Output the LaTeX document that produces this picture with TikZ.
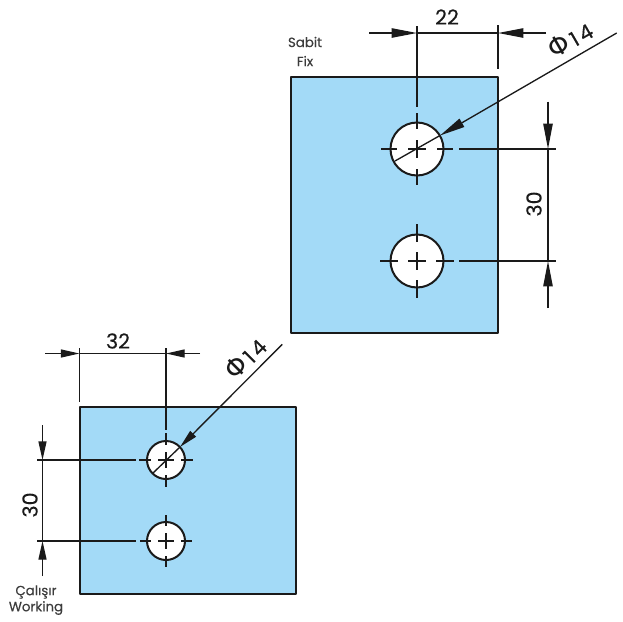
\documentclass[tikz,border=0pt]{standalone}
\usepackage{fontspec}
\setmainfont{Poppins}[FakeBold=0.25]
\newfontfamily\symfont{DejaVu Sans}
\usetikzlibrary{arrows.meta}
\definecolor{plateblue}{HTML}{A3DAF7}
\definecolor{inkdark}{HTML}{1A1A1A}
\newcommand{\diam}[1]{{\symfont\fontsize{#1}{#1}\selectfont Φ}\hspace{2pt}1\hspace{2.5pt}4}
\tikzset{
plate/.style={draw=inkdark,fill=plateblue,line width=1.5pt,line join=round},
hole/.style={draw=inkdark,fill=white,line width=1.5pt},
thin line/.style={draw=inkdark,line width=1pt},
big tip/.style={thin line,-{Triangle[length=19pt,width=7pt]}},
small tip/.style={thin line,-{Triangle[length=14pt,width=6pt]}},
dim text/.style={text=inkdark,font=\fontsize{15.5}{15.5}\selectfont,inner sep=0pt},
note text/.style={text=inkdark!85,font=\fontsize{10}{10}\selectfont,inner sep=0pt}
}
\begin{document}
\begin{tikzpicture}[x=.75pt,y=-.75pt,line cap=butt]
\useasboundingbox (0,0) rectangle (622,622);
\def\xa{417} \def\ya{149} \def\yb{261}
\def\xc{166} \def\yc{460} \def\yd{541}
% plates
\fill[white] (0,0) rectangle (622,622);
\draw[plate] (290.5,76.5) rectangle (498,332.5);
\draw[plate] (79.5,407) rectangle (296,594);
% holes: x/y/radius/cross/dash start/dash end
\foreach \x/\y/\r/\m/\p/\q/\n in{\xa/\ya/26.5/9/20/36/holeA,\xa/\yb/26.5/9/19/37/holeB,\xc/\yc/19/8/15/27/holeC,\xc/\yd/19/8/15/26/holeD}{
\coordinate (\n) at (\x,\y);
\draw[hole] (\n) circle (\r);
\draw[thin line,shift={(\x,\y)}] (-\m,0)--(\m,0)(0,-\m)--(0,\m)
 (-\q,0)--(-\p,0)(\p,0)--(\q,0)(0,-\q)--(0,-\p)(0,\p)--(0,\q);
}
% top dimensions
\coordinate (a1) at (369,33); \coordinate (a2) at (417,33);
\coordinate (a3) at (498,33); \coordinate (a4) at (546,33);
\draw[big tip] (a1)--(a2);
\draw[big tip] (a4)--(a3);
\draw[thin line] (a2)--(a3)(417,26)--(417,106.5)(498,25)--(498,69);
\node[dim text] (dimA) at (447,17) {22};
\coordinate (b1) at (548,101.5); \coordinate (b2) at (548,149);
\coordinate (b3) at (548,261); \coordinate (b4) at (548,308);
\draw[big tip] (b1)--(b2);
\draw[big tip] (b4)--(b3);
\draw[thin line] (b2)--(b3)(459,149)--(555.5,149)(459,261)--(555.5,261);
\node[dim text,rotate=90] (dimB) at (534,204) {30};
\coordinate (c1) at (616.7,33); \coordinate (c2) at (440,135.5); \coordinate (c3) at (395,161);
\draw[big tip] (c1)--(c2);
\draw[thin line] (c2)--(c3);
\node[dim text,rotate=30] (dimC) at (570,39) {\diam{20}};
\node[note text] (noteA) at (305,42) {Sabit};
\node[note text] (noteB) at (305,61) {Fix};
% bottom dimensions
\coordinate (d1) at (45,353.5); \coordinate (d2) at (79.5,353.5);
\coordinate (d3) at (166,353.5); \coordinate (d4) at (200,353.5);
\draw[small tip] (d1)--(d2);
\draw[small tip] (d4)--(d3);
\draw[thin line] (d2)--(d3)(79.5,348)--(79.5,402)(166,348)--(166,430);
\node[dim text] (dimD) at (118,341) {32};
\coordinate (e1) at (42.5,425); \coordinate (e2) at (42.5,460);
\coordinate (e3) at (42.5,541); \coordinate (e4) at (42.5,576);
\draw[small tip] (e1)--(e2);
\draw[small tip] (e4)--(e3);
\draw[thin line] (e2)--(e3)(37,460)--(136,460)(37,541)--(136,541);
\node[dim text,rotate=90] (dimE) at (30,505) {30};
\coordinate (f1) at (282.3,344.3); \coordinate (f2) at (180,447); \coordinate (f3) at (152.6,473.4);
\draw[small tip] (f1)--(f2);
\draw[thin line] (f2)--(f3);
\node[dim text,rotate=45] (dimF) at (245,358) {\diam{20}};
\node[note text] (noteC) at (36,592) {Çalışır};
\node[note text] (noteD) at (36,608) {Working};
\end{tikzpicture}
\end{document}
